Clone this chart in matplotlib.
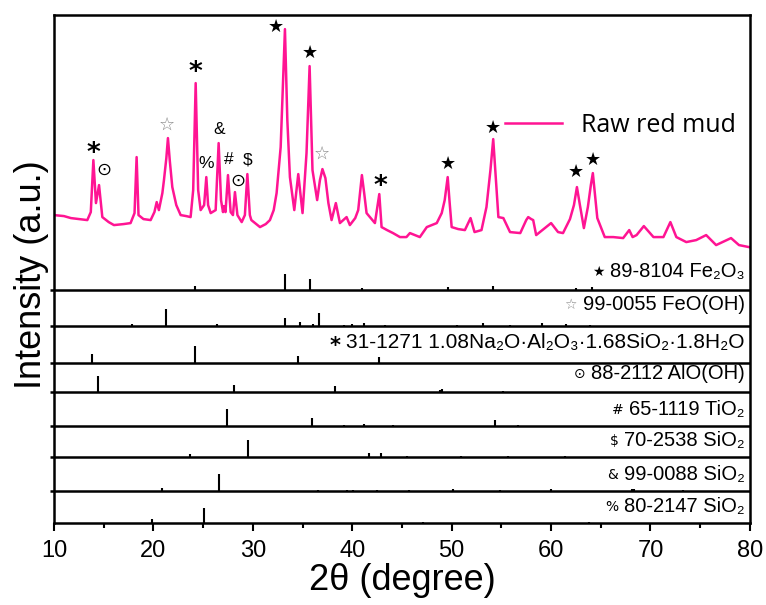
import matplotlib
matplotlib.use('Agg')
import matplotlib.pyplot as plt
from matplotlib.ticker import MultipleLocator

plt.rcParams['font.family'] = ['Liberation Sans', 'DejaVu Sans']

# raw red mud pattern (2theta, intensity in a.u.)
two_theta = [10.0, 11.0, 11.7, 12.5, 13.35, 13.7, 13.96, 14.22, 14.53, 14.86, 15.5, 16.03, 17.0, 17.7,
             18.1, 18.31, 18.5, 19.0, 19.72, 20.1, 20.33, 20.55, 20.9, 21.06, 21.3, 21.46, 21.65, 21.9,
             22.3, 22.74, 23.3, 23.74, 24.0, 24.25, 24.5, 24.75, 25.1, 25.32, 25.5, 25.76, 26.26, 26.56,
             26.8, 27.0, 27.1, 27.25, 27.5, 27.77, 28.0, 28.2, 28.45, 28.88, 29.2, 29.45, 29.7, 29.85,
             30.72, 31.3, 31.72, 32.1, 32.39, 32.8, 33.05, 33.23, 33.47, 33.73, 34.17, 34.57, 35.0, 35.4,
             35.71, 36.0, 36.47, 36.75, 37.0, 37.3, 37.6, 37.92, 38.35, 38.76, 39.43, 39.76, 40.3, 40.6,
             40.97, 41.2, 41.44, 42.28, 42.72, 42.95, 43.5, 44.1, 44.8, 45.45, 45.8, 46.8, 47.5, 48.0,
             48.5, 49.0, 49.3, 49.6, 49.8, 50.0, 50.66, 51.33, 51.9, 52.3, 53.0, 53.5, 53.9, 54.18, 54.45,
             54.7, 55.2, 55.87, 56.9, 57.5, 57.7, 58.0, 58.2, 58.5, 59.5, 60.0, 60.7, 61.2, 61.9, 62.3,
             62.6, 62.9, 63.3, 63.7, 64.0, 64.2, 64.45, 64.65, 65.4, 66.25, 67.25, 67.86, 68.2, 68.6,
             69.33, 70.3, 71.3, 72.0, 72.6, 73.6, 74.6, 75.6, 76.6, 78.1, 78.9, 79.9]
raw = [308, 307, 305, 304, 303, 311, 363, 320, 338, 306, 301, 298, 299, 300,
       310, 366, 308, 304, 303, 311, 321, 313, 330, 343, 365, 385, 362, 336,
       318, 308, 307, 306, 333, 440, 333, 313, 318, 346, 318, 310, 313, 380,
       323, 311, 317, 311, 348, 311, 308, 331, 308, 301, 308, 349, 308, 303,
       296, 299, 303, 313, 330, 376, 443, 494, 403, 346, 313, 349, 310, 370,
       457, 353, 323, 343, 354, 345, 320, 303, 320, 300, 306, 298, 305, 313,
       348, 330, 310, 300, 329, 296, 293, 290, 286, 286, 290, 286, 296, 298,
       300, 310, 323, 346, 320, 296, 294, 293, 305, 291, 293, 316, 353, 384, 343,
       306, 305, 291, 290, 303, 306, 304, 303, 288, 296, 300, 291, 290, 304, 318,
       336, 318, 295, 316, 338, 350, 325, 305, 286, 286, 285, 293, 286, 288,
       297, 286, 286, 301, 286, 281, 283, 288, 278, 285, 278, 276]

# reference cards: stick positions and relative heights
fe2o3_pos = [24.2, 33.25, 35.7, 40.95, 49.6, 54.2, 62.55, 64.1]
fe2o3_h = [4.5, 16, 11, 2, 3, 4, 2, 3]
feooh_pos = [17.8, 21.25, 26.35, 33.25, 34.7, 36.05, 36.7, 39.2, 39.95, 41.2, 43.3, 50.5, 53.2, 55.9, 59.05, 61.5, 63.9]
feooh_h = [1.5, 16.5, 1.5, 7.5, 4, 2, 12.5, 1, 1.5, 3, 1, 1, 3, 1, 3, 1.5, 1]
soda_pos = [13.87, 24.2, 34.57, 42.72]
soda_h = [8.5, 16.5, 7, 6]
alooh_pos = [14.45, 28.12, 29.1, 38.25, 40.3, 48.85, 49.05, 51.5, 55.2, 56.5]
alooh_h = [16, 7, 0.7, 6.3, 0.7, 2, 3.5, 0.7, 1, 0.7]
tio2_pos = [27.4, 35.95, 39.2, 41.15, 44.05, 54.35, 56.7]
tio2_h = [16.5, 7.5, 0.7, 2, 0.7, 6, 1]
sio2a_pos = [23.65, 29.5, 41.7, 42.87, 45.5, 50.9, 55.7, 61.4]
sio2a_h = [3, 17, 4, 4.5, 1, 1, 1, 1]
sio2b_pos = [20.82, 26.63, 36.55, 39.45, 40.1, 42.45, 45.7, 50.15, 54.9, 59.95, 68.15, 68.3, 73.3]
sio2b_h = [3.5, 17, 1, 1.5, 0.7, 1, 0.7, 2, 1, 2, 2, 2, 0.7]
sio2c_pos = [19.9, 25.1, 47.1, 63.8]
sio2c_h = [4, 15.5, 1, 1]

card_labels = ['89-8104 Fe\u2082O\u2083', '99-0055 FeO(OH)',
               '31-1271 1.08Na\u2082O\u00b7Al\u2082O\u2083\u00b71.68SiO\u2082\u00b71.8H\u2082O',
               '88-2112 AlO(OH)', '65-1119 TiO\u2082', '70-2538 SiO\u2082', '99-0088 SiO\u2082',
               '80-2147 SiO\u2082']
card_syms = ['\u2605', '\u2606', '*', '\u2299', '#', '$', '&', '%']
card_pos = [fe2o3_pos, feooh_pos, soda_pos, alooh_pos, tio2_pos, sio2a_pos, sio2b_pos, sio2c_pos]
card_h = [fe2o3_h, feooh_h, soda_h, alooh_h, tio2_h, sio2a_h, sio2b_h, sio2c_h]
bases = [233, 197.5, 160.5, 130.7, 97.3, 65.7, 32, 0]
label_dy = [13, 16, 15, 13, 11, 11, 11, 11]

# peak assignments above the raw pattern
peak_sym = ['*', '\u2299', '\u2606', '*', '%', '&', '#', '\u2299', '$', '\u2605', '\u2605', '\u2606', '*',
            '\u2605', '\u2605', '\u2605', '\u2605']
peak_x = [13.96, 15.03, 21.4, 24.25, 25.3, 26.6, 27.6, 28.54, 29.44, 32.33, 35.75, 36.92, 42.86,
          49.6, 54.18, 62.5, 64.24]
peak_y = [374, 353, 398, 455, 360, 394, 364, 342, 363, 496, 470, 369, 341, 359, 395, 351, 363]

fig = plt.figure(figsize=(7.66, 6.05), dpi=100)
ax = fig.add_axes([0.0705, 0.1355, 0.9085, 0.8395])

pink = '#ff1493'
ax.plot(two_theta, raw, color=pink, lw=1.8, label='Raw red mud')

for pos, h, b in zip(card_pos, card_h, bases):
    ax.vlines(pos, b, [b + v for v in h], color='k', lw=1.5)
    if b > 0:
        ax.plot([9.6, 80], [b, b], color='k', lw=1.8, clip_on=False, solid_capstyle='butt')

ax.set_xlim(10, 80)
ax.set_ylim(0, 508)
fig.canvas.draw()
r = fig.canvas.get_renderer()
for lab, sym, b, dy in zip(card_labels, card_syms, bases, label_dy):
    fs = 15 if lab.startswith('31') else 14.5
    t = ax.text(79.5, b + dy, lab, fontsize=fs, ha='right', va='baseline')
    bb = t.get_window_extent(r)
    x0 = ax.transData.inverted().transform((bb.x0 - 6, 0))[0]
    col = '#888888' if sym == '\u2606' else 'k'
    if sym == '*':
        ax.text(x0, b + dy + 2, sym, fontsize=15, ha='right', va='center', color=col,
                family='DejaVu Sans', fontweight='bold')
    else:
        ax.text(x0, b + dy + 5, sym, fontsize=10, ha='right', va='center', color=col,
                family='DejaVu Sans')

for s, x, y in zip(peak_sym, peak_x, peak_y):
    col = '#888888' if s == '\u2606' else 'k'
    if s == '*':
        ax.text(x, y - 5, s, fontsize=19, ha='center', va='center', family='DejaVu Sans',
                fontweight='bold', color='k')
    elif s in ('\u2605', '\u2606', '\u2299'):
        ax.text(x, y, s, fontsize=13, ha='center', va='center', family='DejaVu Sans', color=col)
    else:
        ax.text(x, y, s, fontsize=12.5, ha='center', va='center', color=col)

ax.legend(loc='center left', bbox_to_anchor=(0.648, 0.783), frameon=False, borderpad=0,
          borderaxespad=0, handlelength=2.3, handletextpad=0.75,
          prop={'family': 'Open Sans', 'size': 18})

ax.set_yticks([])
ax.xaxis.set_major_locator(MultipleLocator(10))
ax.xaxis.set_minor_locator(MultipleLocator(5))
ax.tick_params(axis='x', which='major', direction='out', length=6, width=1.5, labelsize=17, pad=6)
ax.tick_params(axis='x', which='minor', direction='out', length=3.5, width=1.5)
for sp in ax.spines.values():
    sp.set_linewidth(1.8)
ax.set_xlabel('2\u03b8 (degree)', fontsize=26, labelpad=1)
fig.text(32 / 766, 1 - 275 / 605, 'Intensity (a.u.)', fontsize=26, rotation=90,
         ha='center', va='center')

fig.savefig('out.png', dpi=100)
